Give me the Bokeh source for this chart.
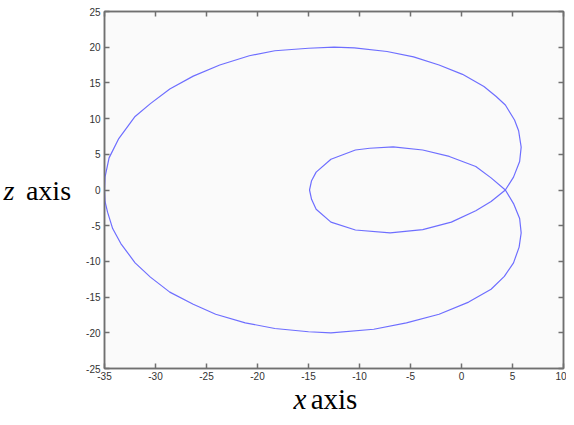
from bokeh.plotting import figure
from bokeh.models import Range1d, LinearAxis, FixedTicker, Title
from bokeh.embed import file_html
from bokeh.resources import INLINE

# Curve points (one closed path: outer loop, then inner loop)
x_vals = [4.3, 5.1, 5.7, 5.85, 5.6, 5.2, 4.3, 3.4, 2.2, 0.1, -2.2, -4.7, -7.3, -10.5, -12.5,
          -15.0, -18.3, -20.8, -23.7, -26.3, -28.6, -30.5, -32.0, -33.6, -34.55, -34.95,
          -35.0, -34.95, -34.7, -34.2, -33.4, -32.0, -30.5, -28.6, -26.3, -24.1, -21.2,
          -18.3, -15.0, -12.8, -8.6, -5.4, -2.2, 0.7, 2.9, 4.2, 5.1, 5.65, 5.85, 5.7, 5.1,
          4.3, 2.9, 1.4, -1.2, -3.8, -6.7, -9.0, -10.4, -12.8, -14.25, -14.7, -14.9, -14.7,
          -14.25, -12.8, -10.4, -7.0, -3.8, -1.0, 1.4, 2.9, 4.3]
z_vals = [0.0, 1.8, 4.0, 6.0, 8.3, 9.8, 11.9, 13.1, 14.5, 16.2, 17.5, 18.65, 19.4, 19.9, 20.0,
          19.85, 19.5, 18.8, 17.5, 15.95, 14.15, 12.1, 10.3, 7.2, 4.5, 1.8,
          0.0, -1.6, -3.1, -5.4, -7.5, -10.2, -12.2, -14.3, -16.0, -17.4, -18.6,
          -19.4, -19.85, -20.0, -19.5, -18.6, -17.4, -15.7, -13.9, -12.1, -10.2, -8.0, -6.0, -4.0, -1.9,
          0.0, 1.7, 3.3, 4.7, 5.6, 6.05, 5.85, 5.6, 4.3, 2.5, 1.3, 0.0, -1.3,
          -2.7, -4.5, -5.6, -6.0, -5.55, -4.5, -2.9, -1.6, 0.0]

x_ticks = [-35, -30, -25, -20, -15, -10, -5, 0, 5, 10]
x_tick_labels = ["-35", "-30", "-25", "-20", "-15", "-10", "-5", "0", "5", "10"]
z_ticks = [-25, -20, -15, -10, -5, 0, 5, 10, 15, 20, 25]
z_tick_labels = ["-25", "-20", "-15", "-10", "-5", "0", "5", "10", "15", "20", "25"]

GRAY = "#707070"
SERIF = "Liberation Serif"

p = figure(width=566, height=417, output_backend="svg", toolbar_location=None,
           x_range=Range1d(-35, 10), y_range=Range1d(-25, 25),
           x_axis_location=None, y_axis_location=None,
           min_border_left=100, min_border_right=3, min_border_top=11, min_border_bottom=48)
p.grid.visible = False
p.background_fill_color = "#fafafa"
p.border_fill_color = "white"
p.outline_line_color = GRAY
p.outline_line_width = 1.5


def make_axis(ticks, labels, show_labels, standoff):
    ax = LinearAxis(ticker=FixedTicker(ticks=ticks))
    ax.major_tick_in = 5
    ax.major_tick_out = 0
    ax.minor_tick_line_color = None
    ax.axis_line_color = GRAY
    ax.axis_line_width = 1.5
    ax.major_tick_line_color = GRAY
    ax.major_tick_line_width = 1.5
    ax.major_label_text_font = "Liberation Sans"
    ax.major_label_standoff = standoff
    if show_labels:
        ax.major_label_overrides = dict(zip(ticks, labels))
        ax.major_label_text_font_size = "10px"
        ax.major_label_text_color = "#333333"
    else:
        ax.major_label_text_font_size = "0px"
        ax.major_label_text_color = None
    return ax


bx = make_axis(x_ticks, x_tick_labels, True, 3)
bx.axis_label = "axis"
bx.axis_label_text_font = SERIF
bx.axis_label_text_font_style = "normal"
bx.axis_label_text_font_size = "29px"
bx.axis_label_text_color = "black"
bx.axis_label_standoff = 0

ly = make_axis(z_ticks, z_tick_labels, True, 4)
ly.axis_label = "axis"
ly.axis_label_orientation = "horizontal"
ly.axis_label_text_font = SERIF
ly.axis_label_text_font_style = "normal"
ly.axis_label_text_font_size = "28px"
ly.axis_label_text_color = "black"
ly.axis_label_standoff = 12

# outer left axis that only carries the italic "z"
lz = LinearAxis(ticker=FixedTicker(ticks=[]), axis_line_color=None,
                major_tick_line_color=None, minor_tick_line_color=None,
                major_label_text_font_size="0px", major_label_standoff=0,
                major_tick_in=0, major_tick_out=0)
lz.axis_label = "z"
lz.axis_label_orientation = "horizontal"
lz.axis_label_text_font = SERIF
lz.axis_label_text_font_style = "italic"
lz.axis_label_text_font_size = "28px"
lz.axis_label_text_color = "black"
lz.axis_label_standoff = 8

tx = make_axis(x_ticks, x_tick_labels, False, 0)
ry = make_axis(z_ticks, z_tick_labels, False, 0)

p.add_layout(bx, "below")
p.add_layout(ly, "left")
p.add_layout(lz, "left")
p.add_layout(tx, "above")
p.add_layout(ry, "right")

# italic "x" next to the bottom axis label
p.add_layout(Title(text="x", align="left", offset=189, vertical_align="top", standoff=-70,
                   text_font=SERIF, text_font_style="italic", text_font_size="29px",
                   text_color="black"), "below")

p.line(x_vals, z_vals, line_color="#6e6eff", line_width=1.2)

open("out.html", "w").write(file_html(p, INLINE))
